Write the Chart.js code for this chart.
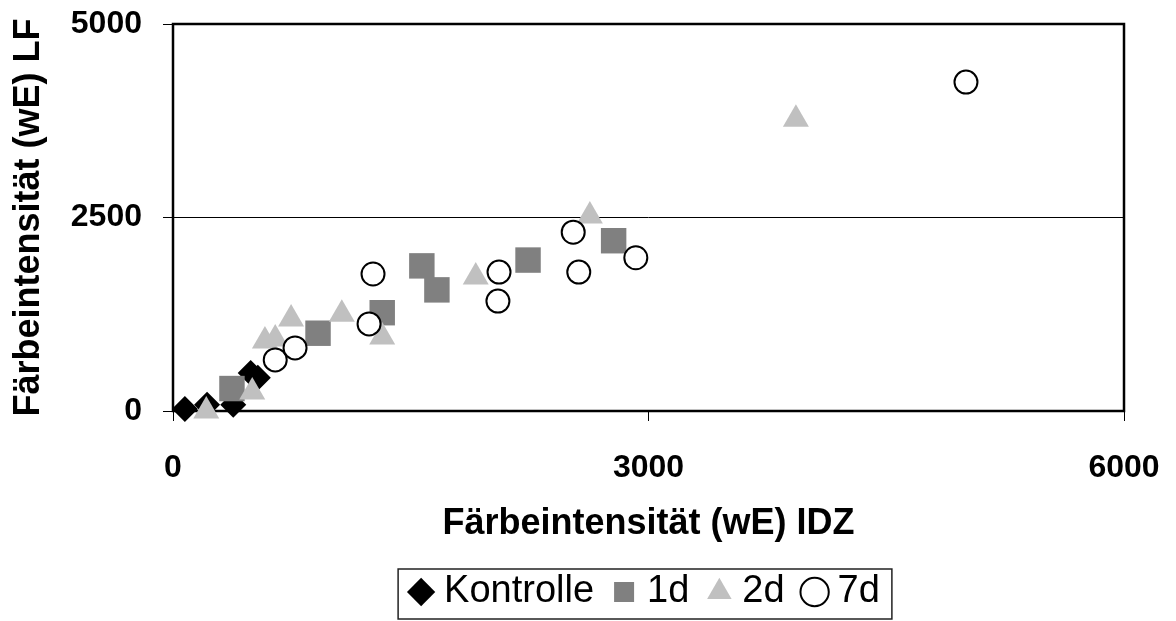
<!DOCTYPE html>
<html>
<head>
<meta charset="utf-8">
<script src="https://cdn.jsdelivr.net/npm/chart.js@4/dist/chart.umd.min.js"></script>
<style>
  body { margin: 0; background: #fff; }
  canvas { display: block; }
</style>
</head>
<body>
<canvas id="plot" width="1176" height="621"></canvas>
<script>
// values (IDZ on x, LF on y)
var kontrolleX = [75, 215, 380, 490, 535];
var kontrolleY = [25, 80, 80, 490, 430];
var d1X = [372, 915, 1320, 1570, 1665, 2240, 2780];
var d1Y = [290, 1005, 1270, 1875, 1565, 1950, 2200];
var d2X = [210, 500, 580, 645, 745, 1065, 1320, 1910, 2630, 3930];
var d2Y = [0, 245, 905, 930, 1190, 1250, 955, 1730, 2520, 3770];
var d7X = [645, 770, 1237, 1262, 2050, 2057, 2525, 2560, 2920, 5003];
var d7Y = [660, 815, 1125, 1770, 1420, 1795, 2310, 1795, 1980, 4250];

var xTicks = [0, 3000, 6000];
var yTicks = [0, 2500, 5000];

function toPoints(xs, ys) {
    var pts = [];
    for (var i = 0; i < xs.length; i++) {
        pts.push({ x: xs[i], y: ys[i] });
    }
    return pts;
}

var fontName = '"Liberation Sans", Arial, sans-serif';

// black frame round the plot area
var frame = {
    id: 'frame',
    beforeDatasetsDraw: function (chart) {
        var a = chart.chartArea;
        var ctx = chart.ctx;
        ctx.save();
        ctx.strokeStyle = '#000';
        ctx.lineWidth = 2.5;
        ctx.strokeRect(a.left, a.top, a.right - a.left, a.bottom - a.top);
        ctx.restore();
    }
};

// box round the legend
var legendBox = {
    id: 'legendBox',
    afterDraw: function (chart) {
        var hb = chart.legend.legendHitBoxes;
        if (!hb || !hb.length) return;
        var left = Infinity, right = -Infinity;
        hb.forEach(function (b) {
            left = Math.min(left, b.left);
            right = Math.max(right, b.left + b.width);
        });
        var ctx = chart.ctx;
        ctx.save();
        ctx.strokeStyle = '#222';
        ctx.lineWidth = 1.5;
        ctx.strokeRect(left - 19, hb[0].top - 4, right + 12 - (left - 19), hb[0].height + 12);
        ctx.restore();
    }
};

var chart = new Chart(document.getElementById('plot'), {
    type: 'scatter',
    data: {
        datasets: [{
            label: 'Kontrolle',
            data: toPoints(kontrolleX, kontrolleY),
            pointStyle: 'rectRot',
            pointRadius: 13,
            backgroundColor: '#000000',
            borderColor: '#000000',
            borderWidth: 0,
            order: 4
        }, {
            label: '1d',
            data: toPoints(d1X, d1Y),
            pointStyle: 'rect',
            pointRadius: 18,
            backgroundColor: '#808080',
            borderColor: '#808080',
            borderWidth: 0,
            order: 3
        }, {
            label: '2d',
            data: toPoints(d2X, d2Y),
            pointStyle: 'triangle',
            pointRadius: 15,
            backgroundColor: '#c0c0c0',
            borderColor: '#c0c0c0',
            borderWidth: 0,
            order: 2
        }, {
            label: '7d',
            data: toPoints(d7X, d7Y),
            pointStyle: 'circle',
            pointRadius: 11.5,
            backgroundColor: '#ffffff',
            borderColor: '#000000',
            borderWidth: 2,
            order: 1
        }]
    },
    options: {
        responsive: false,
        animation: false,
        devicePixelRatio: 1,
        clip: false,
        layout: { padding: { left: 0, right: 52, top: 24, bottom: 0 } },
        elements: { point: { hoverRadius: 0 } },
        plugins: {
            tooltip: { enabled: false },
            legend: {
                position: 'bottom',
                fullSize: false,
                labels: {
                    usePointStyle: true,
                    boxWidth: 8,
                    boxHeight: 20,
                    padding: 26,
                    color: '#000',
                    font: { family: fontName, size: 38 },
                    sort: function (a, b) { return a.datasetIndex - b.datasetIndex; }
                }
            }
        },
        scales: {
            x: {
                type: 'linear',
                min: 0,
                max: 6000,
                afterBuildTicks: function (s) {
                    s.ticks = xTicks.map(function (v) { return { value: v }; });
                },
                afterFit: function (s) {
                    s.height = 136;
                    s.paddingLeft = 0;
                    s.paddingRight = 0;
                },
                border: { display: false },
                grid: { drawOnChartArea: false, color: '#000', tickLength: 10, lineWidth: 1 },
                ticks: {
                    color: '#000',
                    padding: 28,
                    maxRotation: 0,
                    callback: function (v) { return String(v); },
                    font: { family: fontName, size: 32, weight: 'bold' }
                },
                title: {
                    display: true,
                    text: 'Färbeintensität (wE) IDZ',
                    color: '#000',
                    padding: { top: 0, bottom: 1 },
                    font: { family: fontName, size: 36, weight: 'bold' }
                }
            },
            y: {
                type: 'linear',
                min: 0,
                max: 5000,
                afterBuildTicks: function (s) {
                    s.ticks = yTicks.map(function (v) { return { value: v }; });
                },
                afterFit: function (s) {
                    s.width = 173;
                    s.paddingTop = 0;
                    s.paddingBottom = 0;
                },
                border: { display: false },
                grid: { color: '#000', tickLength: 10, lineWidth: 1 },
                ticks: {
                    color: '#000',
                    padding: 21,
                    callback: function (v) { return String(v); },
                    font: { family: fontName, size: 32, weight: 'bold' }
                },
                title: {
                    display: true,
                    text: 'Färbeintensität (wE) LF',
                    color: '#000',
                    padding: { top: 7, bottom: 0 },
                    font: { family: fontName, size: 36, weight: 'bold' }
                }
            }
        }
    },
    plugins: [frame, legendBox]
});
</script>
</body>
</html>
